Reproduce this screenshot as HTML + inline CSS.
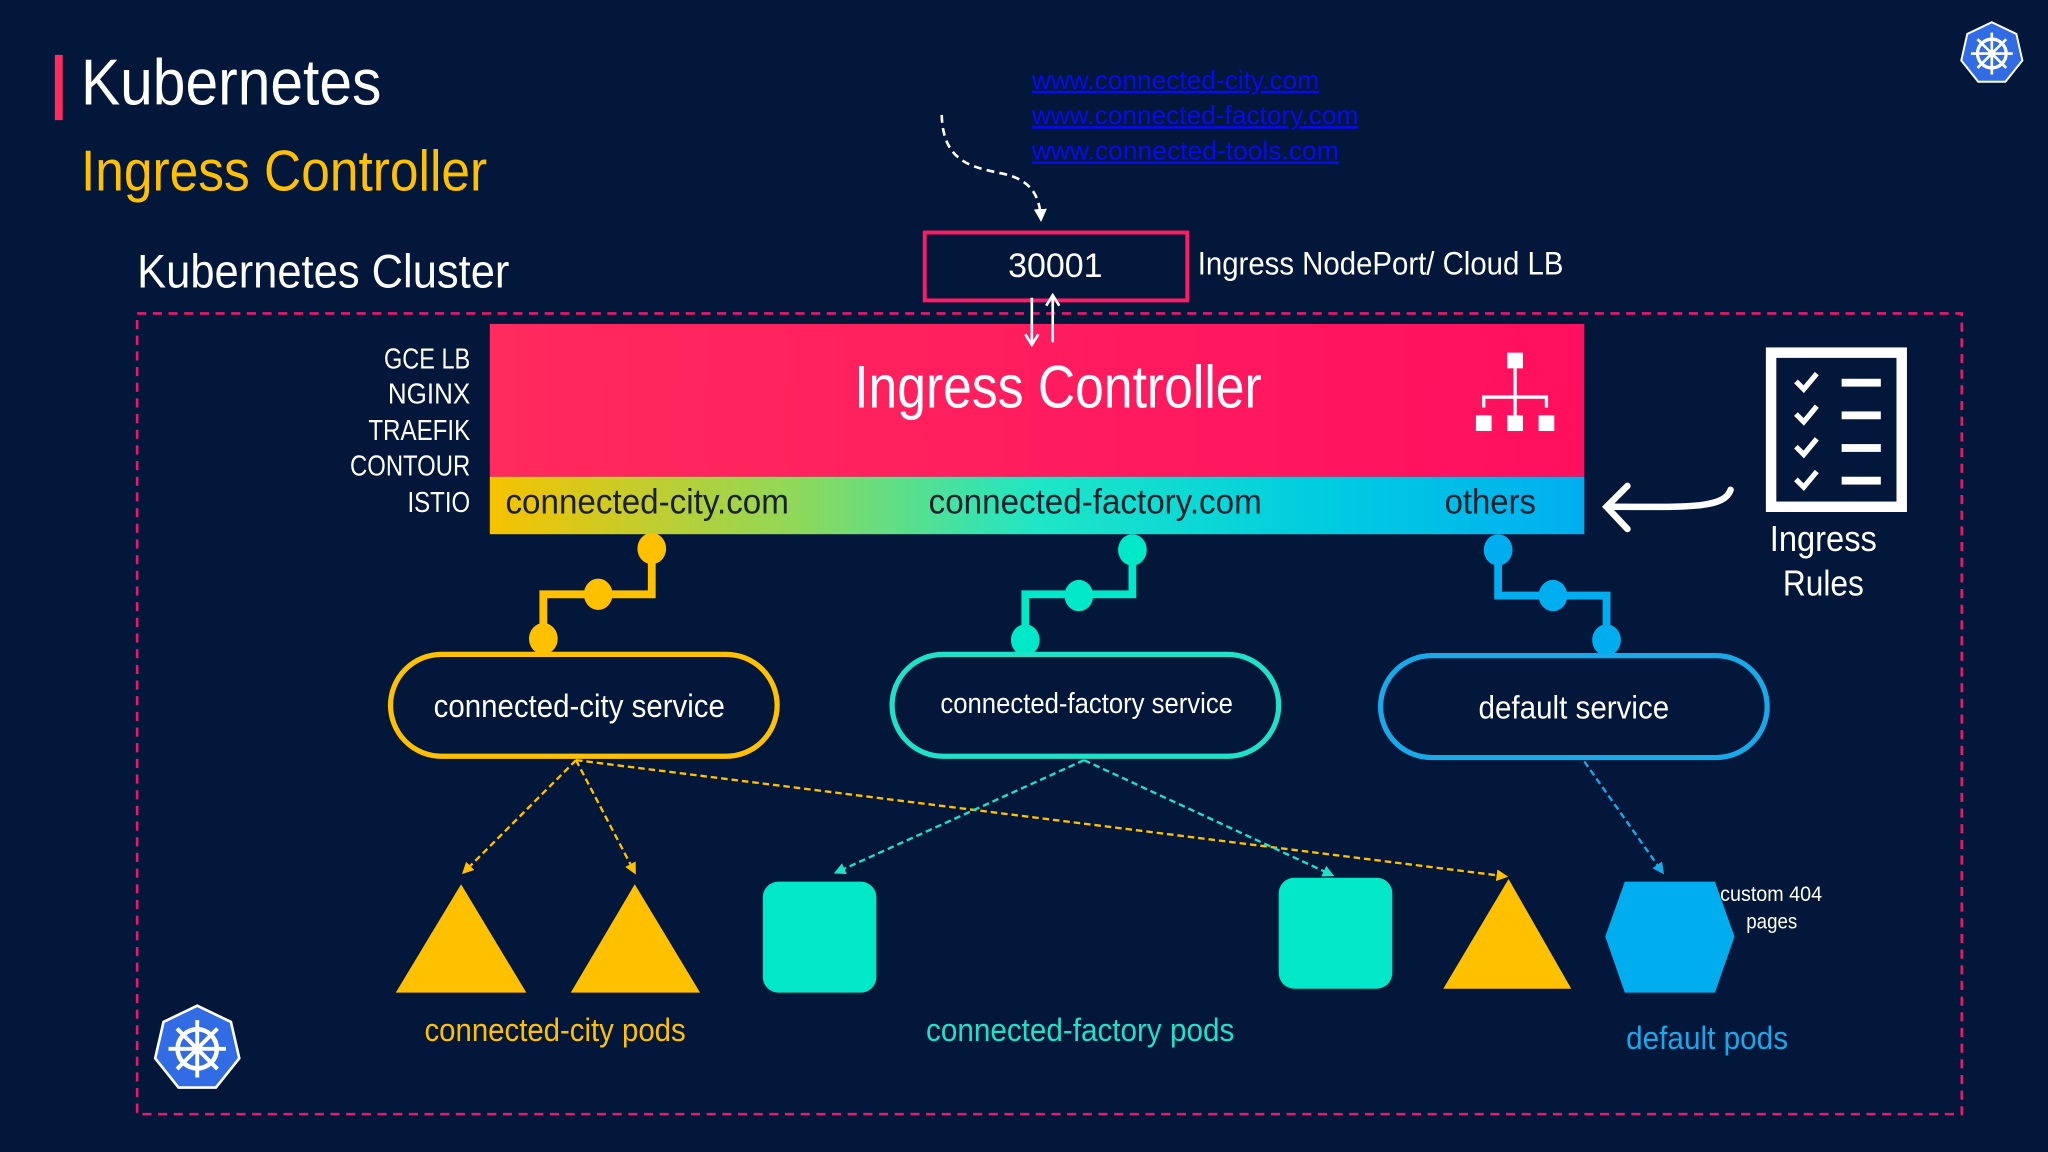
<!DOCTYPE html>
<html><head><meta charset="utf-8"><style>
html,body{margin:0;padding:0;background:#03173a;width:2048px;height:1152px;overflow:hidden}
svg{display:block}
text{font-family:"Liberation Sans Narrow","Liberation Sans",sans-serif}
</style></head><body>
<svg width="2048" height="1152" viewBox="0 0 1568 882" xmlns="http://www.w3.org/2000/svg">
<defs>
<linearGradient id="pk" x1="0" y1="0" x2="1" y2="0"><stop offset="0" stop-color="#ff2a5e"/><stop offset="1" stop-color="#ff0f5f"/></linearGradient>
<linearGradient id="band" x1="0" y1="0" x2="1" y2="0"><stop offset="0" stop-color="#f7c200"/><stop offset="0.28" stop-color="#8fd85a"/><stop offset="0.5" stop-color="#1ee6c6"/><stop offset="0.75" stop-color="#00cedf"/><stop offset="1" stop-color="#00aef0"/></linearGradient>
<marker id="ay" viewBox="0 0 10 10" refX="8" refY="5" markerWidth="5" markerHeight="5" orient="auto"><path d="M0,0 L10,5 L0,10z" fill="#ffc000"/></marker>
<marker id="at" viewBox="0 0 10 10" refX="8" refY="5" markerWidth="5" markerHeight="5" orient="auto"><path d="M0,0 L10,5 L0,10z" fill="#1fe0c8"/></marker>
<marker id="ab" viewBox="0 0 10 10" refX="8" refY="5" markerWidth="5" markerHeight="5" orient="auto"><path d="M0,0 L10,5 L0,10z" fill="#19a8e8"/></marker>
<marker id="aw" viewBox="0 0 10 10" refX="8" refY="5" markerWidth="5" markerHeight="5" orient="auto"><path d="M0,0 L10,5 L0,10z" fill="#fff"/></marker>
</defs>
<rect width="1568" height="882" fill="#03173a"/>
<rect x="42" y="42" width="6" height="50" fill="#ff2a5e"/>
<text x="62" y="80" font-size="50" fill="#fff" textLength="230" lengthAdjust="spacingAndGlyphs">Kubernetes</text>
<text x="62" y="146" font-size="44" fill="#ffc000" textLength="311" lengthAdjust="spacingAndGlyphs">Ingress Controller</text>
<text x="105" y="220" font-size="36" fill="#fff" textLength="285" lengthAdjust="spacingAndGlyphs">Kubernetes Cluster</text>
<rect x="105" y="240" width="1397" height="613" fill="none" stroke="#e6196a" stroke-width="2" stroke-dasharray="7,5"/>
<g font-size="20" fill="#0a0aee" text-decoration="underline">
<text x="790" y="68" textLength="220" lengthAdjust="spacingAndGlyphs">www.connected-city.com</text>
<text x="790" y="95" textLength="250" lengthAdjust="spacingAndGlyphs">www.connected-factory.com</text>
<text x="790" y="122" textLength="235" lengthAdjust="spacingAndGlyphs">www.connected-tools.com</text>
</g>
<path d="M721,88 C722,125 745,128 768,133 C790,138 796,150 797,168" fill="none" stroke="#fff" stroke-width="2" stroke-dasharray="6,4" marker-end="url(#aw)"/>
<rect x="708" y="178" width="201" height="52" fill="none" stroke="#ff1a66" stroke-width="3"/>
<text x="808" y="212" font-size="26" fill="#fff" text-anchor="middle">30001</text>
<text x="917" y="210" font-size="25" fill="#fff" textLength="280" lengthAdjust="spacingAndGlyphs">Ingress NodePort/ Cloud LB</text>
<rect x="375" y="248" width="838" height="117" fill="url(#pk)"/>
<rect x="375" y="365" width="838" height="44" fill="url(#band)"/>
<path d="M790,228 V262 M785,256 L790,264 L795,256" fill="none" stroke="#fff" stroke-width="2"/>
<path d="M806,262 V228 M801,234 L806,226 L811,234" fill="none" stroke="#fff" stroke-width="2"/>
<text x="654" y="312" font-size="46" fill="#fff" textLength="312" lengthAdjust="spacingAndGlyphs">Ingress Controller</text>
<g font-size="27" fill="#1b1f2e">
<text x="387" y="393" textLength="217" lengthAdjust="spacingAndGlyphs">connected-city.com</text>
<text x="711" y="393" textLength="255" lengthAdjust="spacingAndGlyphs">connected-factory.com</text>
<text x="1106" y="393" textLength="70" lengthAdjust="spacingAndGlyphs">others</text>
</g>
<g fill="#fff"><rect x="1154" y="270" width="12" height="12"/><rect x="1130" y="318" width="12" height="12"/><rect x="1154" y="318" width="12" height="12"/><rect x="1178" y="318" width="12" height="12"/></g>
<path d="M1160,282 V318 M1136,312 V304 H1184 V312" fill="none" stroke="#fff" stroke-width="2.5"/>
<g font-size="22" fill="#fff">
<text x="294" y="282" textLength="66" lengthAdjust="spacingAndGlyphs">GCE LB</text>
<text x="297" y="309" textLength="63" lengthAdjust="spacingAndGlyphs">NGINX</text>
<text x="282" y="337" textLength="78" lengthAdjust="spacingAndGlyphs">TRAEFIK</text>
<text x="268" y="364" textLength="92" lengthAdjust="spacingAndGlyphs">CONTOUR</text>
<text x="312" y="392" textLength="48" lengthAdjust="spacingAndGlyphs">ISTIO</text>
</g>
<rect x="1356" y="270" width="100" height="118" fill="none" stroke="#fff" stroke-width="8"/>
<g stroke="#fff" stroke-width="4" fill="none">
<path d="M1375,292 l6,6 l10,-12 M1375,317 l6,6 l10,-12 M1375,342 l6,6 l10,-12 M1375,367 l6,6 l10,-12"/>
</g>
<g fill="#fff"><rect x="1410" y="290" width="30" height="6"/><rect x="1410" y="315" width="30" height="6"/><rect x="1410" y="340" width="30" height="6"/><rect x="1410" y="365" width="30" height="6"/></g>
<path d="M1325,375 C1320,390 1290,388 1232,388" fill="none" stroke="#fff" stroke-width="5" stroke-linecap="round"/>
<path d="M1246,372 L1230,388 L1246,405" fill="none" stroke="#fff" stroke-width="5" stroke-linecap="round"/>
<text x="1355" y="422" font-size="28" fill="#fff" textLength="82" lengthAdjust="spacingAndGlyphs">Ingress</text>
<text x="1365" y="456" font-size="28" fill="#fff" textLength="62" lengthAdjust="spacingAndGlyphs">Rules</text>
<path d="M499,420 V455 H416 V488" fill="none" stroke="#ffc000" stroke-width="6"/>
<g fill="#ffc000"><ellipse cx="499" cy="420" rx="11" ry="12"/><ellipse cx="458" cy="455" rx="11" ry="12"/><ellipse cx="416" cy="489" rx="11" ry="12"/></g>
<path d="M867,421 V455 H785 V490" fill="none" stroke="#00e8c8" stroke-width="6"/>
<g fill="#00e8c8"><ellipse cx="867" cy="421" rx="11" ry="12"/><ellipse cx="826" cy="456" rx="11" ry="12"/><ellipse cx="785" cy="490" rx="11" ry="12"/></g>
<path d="M1147,421 V456 H1230 V490" fill="none" stroke="#00aeef" stroke-width="6"/>
<g fill="#00aeef"><ellipse cx="1147" cy="421" rx="11" ry="12"/><ellipse cx="1189" cy="456" rx="11" ry="12"/><ellipse cx="1230" cy="490" rx="11" ry="12"/></g>
<rect x="299" y="501" width="296" height="78" rx="39" fill="#03173a" stroke="#ffc000" stroke-width="4"/>
<text x="332" y="549" font-size="25" fill="#fff" textLength="223" lengthAdjust="spacingAndGlyphs">connected-city service</text>
<rect x="683" y="501" width="296" height="78" rx="39" fill="#03173a" stroke="#1fe0c8" stroke-width="4"/>
<text x="720" y="546" font-size="22" fill="#fff" textLength="224" lengthAdjust="spacingAndGlyphs">connected-factory service</text>
<rect x="1057" y="502" width="296" height="78" rx="39" fill="#03173a" stroke="#19a8e8" stroke-width="4"/>
<text x="1132" y="550" font-size="25" fill="#fff" textLength="146" lengthAdjust="spacingAndGlyphs">default service</text>
<g fill="none" stroke-width="1.8" stroke-dasharray="5,3">
<path d="M441,582 L355,668" stroke="#ffc000" marker-end="url(#ay)"/>
<path d="M441,582 L486,668" stroke="#ffc000" marker-end="url(#ay)"/>
<path d="M441,582 L1153,671" stroke="#ffc000" marker-end="url(#ay)"/>
<path d="M830,582 L640,668" stroke="#1fe0c8" marker-end="url(#at)"/>
<path d="M830,582 L1020,670" stroke="#1fe0c8" marker-end="url(#at)"/>
<path d="M1213,583 L1273,668" stroke="#19a8e8" marker-end="url(#ab)"/>
</g>
<g fill="#ffc000">
<polygon points="303,760 353,677 403,760"/><polygon points="437,760 486,677 536,760"/><polygon points="1105,757 1155,673 1203,757"/>
</g>
<rect x="584" y="675" width="87" height="85" rx="12" fill="#00e8c8"/>
<rect x="979" y="672" width="87" height="85" rx="12" fill="#00e8c8"/>
<polygon points="1229,717 1244,675 1313,675 1328,717 1313,760 1244,760" fill="#00aeef"/>
<text x="1317" y="690" font-size="16" fill="#fff" textLength="78" lengthAdjust="spacingAndGlyphs">custom 404</text>
<text x="1337" y="711" font-size="16" fill="#fff" textLength="39" lengthAdjust="spacingAndGlyphs">pages</text>
<text x="325" y="797" font-size="25" fill="#ffc000" textLength="200" lengthAdjust="spacingAndGlyphs">connected-city pods</text>
<text x="709" y="797" font-size="25" fill="#1fe0c8" textLength="236" lengthAdjust="spacingAndGlyphs">connected-factory pods</text>
<text x="1245" y="803" font-size="25" fill="#19a8e8" textLength="124" lengthAdjust="spacingAndGlyphs">default pods</text>
<g transform="translate(151,803)">
<polygon points="0,-33 25.8,-20.6 32.2,7.3 14.3,29.7 -14.3,29.7 -32.2,7.3 -25.8,-20.6" fill="#326ce5" stroke="#fff" stroke-width="2"/>
<circle r="15" fill="none" stroke="#fff" stroke-width="3.5"/><circle r="4" fill="#fff"/>
<path d="M0,-22 V22 M-22,0 H22 M-15.5,-15.5 L15.5,15.5 M15.5,-15.5 L-15.5,15.5" stroke="#fff" stroke-width="3"/>
</g>
<g transform="translate(1525,41)">
<polygon points="0,-24 18.8,-15 23.4,5.3 10.4,21.6 -10.4,21.6 -23.4,5.3 -18.8,-15" fill="#326ce5" stroke="#fff" stroke-width="1.5"/>
<circle r="11" fill="none" stroke="#fff" stroke-width="2.5"/><circle r="3" fill="#fff"/>
<path d="M0,-16 V16 M-16,0 H16 M-11,-11 L11,11 M11,-11 L-11,11" stroke="#fff" stroke-width="2"/>
</g>
</svg>
</body></html>
